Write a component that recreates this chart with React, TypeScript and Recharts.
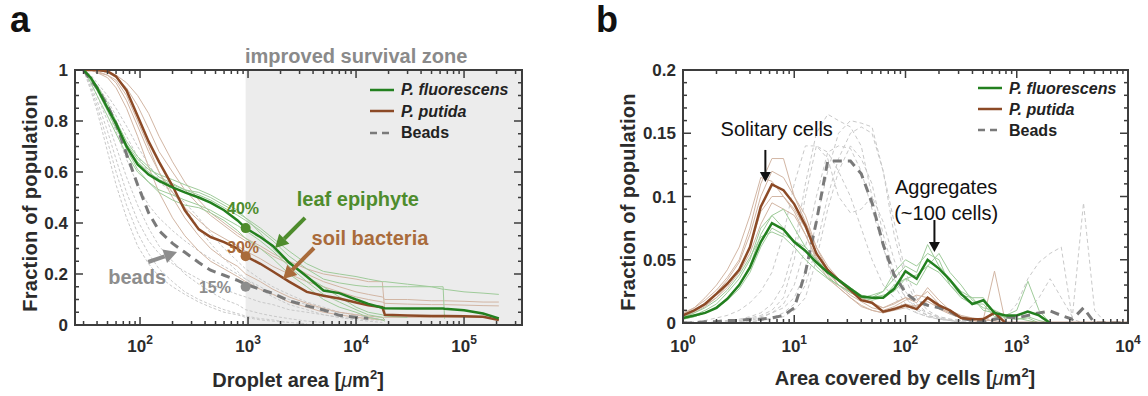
import React from "react";
import {
  LineChart,
  Line,
  XAxis,
  YAxis,
  ReferenceArea,
  ReferenceDot,
  ReferenceLine,
} from "recharts";

// ---------- panel a: fraction of population vs droplet area ----------
const A_AREA = [
  30, 35, 40, 50, 60, 75, 95, 120, 150, 200, 260, 350, 450, 600, 800, 950,
  1300, 1700, 2400, 3500, 5000, 7000, 10000, 13000, 17500, 18500, 30000,
  50000, 64000, 66000, 100000, 150000, 210000,
];
const A_FLUOR = [
  1.0, 0.97, 0.93, 0.85, 0.79, 0.7, 0.63, 0.59, 0.565, 0.54, 0.52, 0.5, 0.48,
  0.45, 0.41, 0.38, 0.345, 0.31, 0.245, 0.19, 0.135, 0.125, 0.1, 0.083, 0.068,
  0.066, 0.065, 0.065, 0.065, 0.064, 0.058, 0.045, 0.026,
];
const A_PUTIDA = [
  1.0, 1.0, 1.0, 0.995, 0.975, 0.92, 0.82, 0.72, 0.64, 0.545, 0.45, 0.375,
  0.345, 0.325, 0.3, 0.27, 0.24, 0.21, 0.17, 0.13, 0.115, 0.104, 0.088, 0.077,
  0.07, 0.04, 0.037, 0.035, 0.035, 0.035, 0.034, 0.032, 0.02,
];
const A_BEADS = [
  1.0, 0.96, 0.93, 0.86, 0.79, 0.67, 0.55, 0.44, 0.37, 0.32, 0.285, 0.245,
  0.215, 0.195, 0.175, 0.16, 0.14, 0.124, 0.095, 0.075, 0.059, 0.038, 0.03,
  0.026,
];
const A_FLUOR_REPS = [
  [1.0, 0.97, 0.94, 0.87, 0.8, 0.72, 0.66, 0.62, 0.58, 0.555, 0.53, 0.51, 0.49, 0.46, 0.43, 0.41, 0.37, 0.33, 0.27, 0.22, 0.18, 0.165, 0.155, 0.15, 0.15, 0.15, 0.15, 0.15, 0.15, 0.025],
  [1.0, 0.96, 0.92, 0.84, 0.77, 0.7, 0.64, 0.6, 0.57, 0.55, 0.53, 0.52, 0.5, 0.47, 0.44, 0.42, 0.38, 0.34, 0.29, 0.24, 0.21, 0.2, 0.19, 0.18, 0.17, 0.17, 0.16, 0.15, 0.14, 0.14, 0.13, 0.125, 0.12],
  [1.0, 0.95, 0.9, 0.82, 0.75, 0.67, 0.6, 0.56, 0.53, 0.51, 0.49, 0.47, 0.45, 0.42, 0.39, 0.37, 0.33, 0.29, 0.23, 0.17, 0.12, 0.09, 0.06, 0.04, 0.03, 0.02],
  [1.0, 0.97, 0.93, 0.86, 0.79, 0.71, 0.65, 0.61, 0.59, 0.57, 0.55, 0.53, 0.51, 0.48, 0.45, 0.42, 0.36, 0.3, 0.24, 0.19, 0.15, 0.11, 0.07, 0.05, 0.04, 0.035, 0.03],
  [1.0, 0.96, 0.92, 0.85, 0.78, 0.69, 0.61, 0.56, 0.52, 0.49, 0.47, 0.46, 0.44, 0.41, 0.37, 0.34, 0.3, 0.26, 0.2, 0.15, 0.1, 0.07, 0.05, 0.03, 0.02, 0.015],
];
const A_PUTIDA_REPS = [
  [1.0, 1.0, 1.0, 0.99, 0.97, 0.93, 0.86, 0.77, 0.68, 0.6, 0.53, 0.47, 0.43, 0.39, 0.35, 0.33, 0.3, 0.27, 0.24, 0.2, 0.17, 0.15, 0.13, 0.12, 0.11, 0.1, 0.1, 0.095, 0.095, 0.095, 0.093, 0.09, 0.09],
  [1.0, 1.0, 0.99, 0.98, 0.95, 0.88, 0.78, 0.68, 0.6, 0.52, 0.46, 0.41, 0.37, 0.34, 0.31, 0.29, 0.26, 0.23, 0.2, 0.17, 0.15, 0.13, 0.11, 0.1, 0.09, 0.085, 0.082, 0.08, 0.08, 0.08, 0.078, 0.076, 0.075],
  [1.0, 1.0, 0.99, 0.97, 0.93, 0.85, 0.74, 0.62, 0.52, 0.42, 0.35, 0.29, 0.25, 0.22, 0.19, 0.17, 0.14, 0.12, 0.09, 0.07, 0.05, 0.04, 0.03, 0.025, 0.02, 0.02],
  [1.0, 1.0, 1.0, 0.99, 0.98, 0.95, 0.9, 0.83, 0.74, 0.64, 0.56, 0.49, 0.44, 0.4, 0.36, 0.34, 0.31, 0.28, 0.25, 0.22, 0.2, 0.19, 0.18, 0.17, 0.17, 0.05],
  [1.0, 1.0, 0.995, 0.98, 0.96, 0.9, 0.8, 0.7, 0.6, 0.5, 0.42, 0.35, 0.3, 0.26, 0.23, 0.2, 0.17, 0.14, 0.11, 0.085, 0.065, 0.05, 0.04, 0.035, 0.03, 0.03, 0.03, 0.03, 0.03, 0.03, 0.03, 0.03],
];
const A_BEADS_REPS = [
  [1.0, 0.93, 0.86, 0.72, 0.6, 0.47, 0.36, 0.28, 0.22, 0.17, 0.13, 0.1, 0.08, 0.06, 0.045, 0.035, 0.025, 0.02, 0.01, 0.005],
  [1.0, 0.95, 0.9, 0.8, 0.7, 0.58, 0.47, 0.38, 0.31, 0.25, 0.2, 0.16, 0.13, 0.1, 0.08, 0.06, 0.045, 0.035, 0.025, 0.015, 0.01],
  [1.0, 0.97, 0.94, 0.88, 0.82, 0.74, 0.66, 0.6, 0.56, 0.52, 0.46, 0.38, 0.32, 0.26, 0.21, 0.18, 0.14, 0.11, 0.08, 0.06, 0.04, 0.03, 0.02, 0.015, 0.01],
  [1.0, 0.96, 0.92, 0.84, 0.76, 0.65, 0.55, 0.47, 0.42, 0.37, 0.33, 0.29, 0.26, 0.23, 0.2, 0.18, 0.15, 0.12, 0.1, 0.08, 0.06, 0.05, 0.04, 0.03, 0.02, 0.02],
  [1.0, 0.94, 0.88, 0.76, 0.65, 0.52, 0.41, 0.33, 0.28, 0.24, 0.21, 0.18, 0.16, 0.14, 0.12, 0.11, 0.09, 0.08, 0.06, 0.05, 0.04, 0.03, 0.025, 0.02, 0.02],
  [1.0, 0.98, 0.95, 0.9, 0.85, 0.78, 0.7, 0.63, 0.57, 0.52, 0.48, 0.42, 0.36, 0.3, 0.25, 0.22, 0.18, 0.15, 0.12, 0.09, 0.07, 0.05, 0.04, 0.03, 0.02],
  [1.0, 0.92, 0.84, 0.68, 0.55, 0.42, 0.31, 0.24, 0.19, 0.15, 0.12, 0.09, 0.07, 0.05, 0.04, 0.03, 0.02, 0.015, 0.01],
];
const A_X_TICKS = [
  30, 40, 50, 60, 70, 80, 90, 100, 200, 300, 400, 500, 600, 700, 800, 900,
  1000, 2000, 3000, 4000, 5000, 6000, 7000, 8000, 9000, 10000, 20000, 30000,
  40000, 50000, 60000, 70000, 80000, 90000, 100000, 200000, 300000,
];
const A_Y_TICKS = [
  0, 0.05, 0.1, 0.15, 0.2, 0.25, 0.3, 0.35, 0.4, 0.45, 0.5, 0.55, 0.6, 0.65,
  0.7, 0.75, 0.8, 0.85, 0.9, 0.95, 1,
];
const A_MARKERS = [
  { label: "40%", x: 950, y: 0.38 },
  { label: "30%", x: 950, y: 0.27 },
  { label: "15%", x: 950, y: 0.15 },
];

// ---------- panel b: fraction of population vs area covered by cells ----------
const B_AREA = [
  1, 1.26, 1.58, 2, 2.5, 3.2, 4, 5, 6.3, 8, 10, 12.6, 15.8, 20, 25, 32, 40, 50,
  63, 79, 100, 126, 158, 200, 251, 316, 398, 501, 631, 794, 1000, 1259, 1585,
  1995, 2512, 3162, 3981, 5012, 6310, 7943, 10000,
];
const B_FLUOR = [
  0.004, 0.006, 0.008, 0.012, 0.019, 0.03, 0.044, 0.064, 0.079, 0.074, 0.064,
  0.057, 0.048, 0.04, 0.034, 0.027, 0.021, 0.02, 0.02, 0.027, 0.041, 0.035,
  0.05, 0.043, 0.034, 0.023, 0.015, 0.018, 0.008, 0.006, 0.006, 0.009, 0.006,
  0.0,
];
const B_PUTIDA = [
  0.006, 0.01, 0.015, 0.023, 0.031, 0.042, 0.06, 0.092, 0.1095, 0.105, 0.094,
  0.077, 0.055, 0.042, 0.034, 0.026, 0.018, 0.016, 0.009, 0.011, 0.014, 0.011,
  0.02, 0.014, 0.01, 0.004, 0.003, 0.003, 0.008, 0, 0, 0, 0, 0, 0, 0, 0, 0, 0,
  0, 0,
];
const B_BEADS = [
  0, 0, 0.001, 0.001, 0.002, 0.002, 0.003, 0.003, 0.004, 0.006, 0.012, 0.04,
  0.08, 0.128, 0.128, 0.128, 0.118, 0.095, 0.062, 0.038, 0.024, 0.017, 0.014,
  0.012, 0.009, 0.004, 0.002, 0.001, 0.003, 0.005, 0.004, 0.006, 0.008, 0.0095,
  0.006, 0.003, 0.012, 0, 0, 0, 0,
];
const B_FLUOR_REPS = [
  [0.003, 0.005, 0.008, 0.013, 0.02, 0.03, 0.045, 0.07, 0.085, 0.09, 0.075, 0.06, 0.05, 0.04, 0.033, 0.025, 0.02, 0.022, 0.025, 0.035, 0.045, 0.04, 0.062, 0.045, 0.035, 0.025, 0.02, 0.01, 0.008, 0.004, 0.003, 0.004, 0],
  [0.004, 0.006, 0.01, 0.015, 0.024, 0.035, 0.05, 0.075, 0.085, 0.075, 0.065, 0.06, 0.05, 0.042, 0.035, 0.028, 0.022, 0.02, 0.025, 0.04, 0.05, 0.045, 0.055, 0.05, 0.03, 0.02, 0.015, 0.015, 0.005, 0.006, 0.01, 0.033, 0.01, 0],
  [0.003, 0.005, 0.008, 0.012, 0.018, 0.027, 0.04, 0.06, 0.075, 0.07, 0.065, 0.058, 0.045, 0.036, 0.03, 0.024, 0.02, 0.018, 0.02, 0.03, 0.035, 0.03, 0.045, 0.055, 0.04, 0.03, 0.018, 0.012, 0.01, 0.006, 0.004, 0.002, 0],
  [0.005, 0.008, 0.012, 0.018, 0.026, 0.038, 0.052, 0.068, 0.072, 0.068, 0.06, 0.05, 0.042, 0.035, 0.03, 0.025, 0.022, 0.02, 0.022, 0.025, 0.035, 0.038, 0.045, 0.04, 0.03, 0.022, 0.02, 0.02, 0.008, 0.004, 0.003, 0.005, 0.002, 0],
];
const B_PUTIDA_REPS = [
  [0.008, 0.012, 0.018, 0.026, 0.036, 0.05, 0.075, 0.11, 0.13, 0.13, 0.1, 0.08, 0.06, 0.045, 0.035, 0.025, 0.02, 0.015, 0.012, 0.016, 0.02, 0.018, 0.025, 0.015, 0.008, 0.005, 0.003, 0.002, 0.01, 0],
  [0.006, 0.01, 0.016, 0.024, 0.034, 0.048, 0.07, 0.1, 0.12, 0.115, 0.1, 0.085, 0.06, 0.042, 0.03, 0.022, 0.017, 0.012, 0.01, 0.013, 0.018, 0.022, 0.02, 0.012, 0.008, 0.005, 0.004, 0.003, 0.041, 0],
  [0.005, 0.009, 0.014, 0.02, 0.03, 0.042, 0.06, 0.088, 0.1, 0.1, 0.09, 0.075, 0.055, 0.04, 0.03, 0.024, 0.02, 0.016, 0.012, 0.015, 0.02, 0.016, 0.028, 0.018, 0.01, 0.006, 0.004, 0.002, 0.002, 0],
  [0.004, 0.008, 0.013, 0.02, 0.028, 0.04, 0.055, 0.078, 0.095, 0.09, 0.085, 0.07, 0.052, 0.038, 0.028, 0.02, 0.014, 0.01, 0.008, 0.01, 0.012, 0.014, 0.017, 0.012, 0.008, 0.005, 0.003, 0.004, 0.001, 0],
  [0.007, 0.012, 0.02, 0.03, 0.042, 0.06, 0.085, 0.115, 0.112, 0.1, 0.088, 0.07, 0.05, 0.035, 0.028, 0.02, 0.013, 0.01, 0.008, 0.012, 0.015, 0.013, 0.02, 0.011, 0.007, 0.004, 0.002, 0],
];
const B_BEADS_REPS = [
  [0, 0, 0, 0.001, 0.002, 0.003, 0.005, 0.008, 0.015, 0.03, 0.06, 0.11, 0.15, 0.165, 0.16, 0.155, 0.14, 0.1, 0.06, 0.03, 0.015, 0.008, 0.005, 0.003, 0.002, 0.001, 0],
  [0, 0, 0, 0, 0.001, 0.002, 0.003, 0.005, 0.008, 0.012, 0.02, 0.04, 0.08, 0.12, 0.15, 0.16, 0.158, 0.155, 0.12, 0.07, 0.035, 0.015, 0.008, 0.004, 0.002, 0],
  [0, 0, 0, 0, 0.001, 0.002, 0.004, 0.006, 0.01, 0.02, 0.05, 0.1, 0.14, 0.13, 0.1, 0.087, 0.09, 0.1, 0.08, 0.05, 0.025, 0.012, 0.006, 0.003, 0.002, 0],
  [0.001, 0.001, 0.002, 0.004, 0.006, 0.01, 0.016, 0.025, 0.04, 0.07, 0.11, 0.14, 0.14, 0.135, 0.12, 0.1, 0.075, 0.05, 0.03, 0.02, 0.012, 0.008, 0.005, 0.003, 0.002, 0.001, 0],
  [0, 0, 0, 0, 0, 0.001, 0.002, 0.004, 0.008, 0.015, 0.03, 0.06, 0.1, 0.135, 0.14, 0.138, 0.12, 0.09, 0.06, 0.035, 0.02, 0.012, 0.008, 0.005, 0.003, 0.002, 0.001, 0.001, 0.002, 0.004, 0.006, 0.01, 0.02, 0.035, 0.02, 0.005, 0.095, 0.01, 0],
  [0, 0, 0, 0, 0, 0, 0.001, 0.002, 0.003, 0.005, 0.01, 0.02, 0.05, 0.09, 0.12, 0.14, 0.13, 0.11, 0.07, 0.04, 0.02, 0.01, 0.006, 0.004, 0.002, 0.002, 0.003, 0.003, 0.004, 0.005, 0.015, 0.035, 0.048, 0.055, 0.06, 0.003, 0],
  [0, 0, 0, 0, 0, 0, 0.001, 0.002, 0.004, 0.008, 0.015, 0.03, 0.06, 0.1, 0.13, 0.15, 0.155, 0.15, 0.12, 0.08, 0.04, 0.02, 0.01, 0.005, 0.003, 0.002, 0.001, 0],
];
const B_X_TICKS = [
  1, 2, 3, 4, 5, 6, 7, 8, 9, 10, 20, 30, 40, 50, 60, 70, 80, 90, 100, 200, 300,
  400, 500, 600, 700, 800, 900, 1000, 2000, 3000, 4000, 5000, 6000, 7000, 8000,
  9000, 10000,
];
const B_Y_TICKS = [
  0, 0.01, 0.02, 0.03, 0.04, 0.05, 0.06, 0.07, 0.08, 0.09, 0.1, 0.11, 0.12,
  0.13, 0.14, 0.15, 0.16, 0.17, 0.18, 0.19, 0.2,
];

// ---------- styling ----------
const FONT = '"Liberation Sans", Arial, Helvetica, sans-serif';
const FRAME = "#3d3d3d";
const INK = "#2b2b2b";
const GREEN = "#23801f";
const GREEN_THIN = "#9fcb9a";
const BROWN = "#8c4a26";
const BROWN_THIN = "#d2b6a4";
const GRAY_THICK = "#7a7a7a";
const GRAY_THIN = "#c9c9c9";
const GREEN_TXT = "#4e8c2d";
const BROWN_TXT = "#a96b3b";
const GRAY_TXT = "#8d8d8d";

function buildRows(xs: number[], series: Record<string, number[]>) {
  return xs.map((x, i) => {
    const row: Record<string, number | null> = { x };
    for (const [k, v] of Object.entries(series)) row[k] = v[i] ?? null;
    return row;
  });
}

const isDecade = (v: number) => {
  const l = Math.log10(v);
  return Math.abs(l - Math.round(l)) < 1e-6;
};

// axis labels only; the tick marks are drawn as inward marks on the frame
function xLabel(labelDy: number) {
  return (p: any) => {
    const v = p.payload.value;
    if (!isDecade(v)) return <g />;
    return (
      <text x={p.x} y={p.y + labelDy} textAnchor="middle" fontSize={17} fontWeight="bold" fill={INK} fontFamily={FONT}>
        10
        <tspan dy={-8} fontSize={12}>
          {Math.round(Math.log10(v))}
        </tspan>
      </text>
    );
  };
}

function yLabel(majorEvery: number) {
  return (p: any) => {
    const v = p.payload.value;
    if (Math.round(v * 100) % majorEvery !== 0) return <g />;
    return (
      <text x={p.x - 7} y={p.y} dy="0.36em" textAnchor="end" fontSize={17} fontWeight="bold" fill={INK} fontFamily={FONT}>
        {String(Number(v.toFixed(2)))}
      </text>
    );
  };
}

function tickMark(dx: number, dy: number) {
  return (p: any) => (
    <line x1={p.cx} y1={p.cy} x2={p.cx + dx} y2={p.cy + dy} stroke={FRAME} strokeWidth={1.5} />
  );
}

function frameTicks(domX: [number, number], ticksX: number[], domY: [number, number], ticksY: number[], majorY: number) {
  const out: React.ReactNode[] = [];
  ticksX.forEach((v) => {
    const len = isDecade(v) ? 8 : 4;
    out.push(<ReferenceDot key={`xb${v}`} x={v} y={domY[0]} r={0} ifOverflow="visible" shape={tickMark(0, -len)} />);
    out.push(<ReferenceDot key={`xt${v}`} x={v} y={domY[1]} r={0} ifOverflow="visible" shape={tickMark(0, len)} />);
  });
  ticksY.forEach((v) => {
    const len = Math.round(v * 100) % majorY === 0 ? 8 : 4;
    out.push(<ReferenceDot key={`yl${v}`} x={domX[0]} y={v} r={0} ifOverflow="visible" shape={tickMark(len, 0)} />);
    out.push(<ReferenceDot key={`yr${v}`} x={domX[1]} y={v} r={0} ifOverflow="visible" shape={tickMark(-len, 0)} />);
  });
  out.push(
    <ReferenceArea key="frame" x1={domX[0]} x2={domX[1]} y1={domY[0]} y2={domY[1]} fill="none" fillOpacity={0}
      stroke={FRAME} strokeWidth={2} ifOverflow="visible" />
  );
  return out;
}

function textShape(label: string, color: string, size: number, weight = "bold") {
  return (p: any) => (
    <text x={p.cx} y={p.cy} dy="0.35em" textAnchor="middle" fill={color} fontSize={size} fontWeight={weight} fontFamily={FONT}>
      {label}
    </text>
  );
}

function arrowShape(color: string, width: number, head: number) {
  return (p: any) => {
    const { x1, y1, x2, y2 } = p;
    const dx = x2 - x1;
    const dy = y2 - y1;
    const len = Math.hypot(dx, dy) || 1;
    const ux = dx / len;
    const uy = dy / len;
    const bx = x2 - ux * head;
    const by = y2 - uy * head;
    const hw = head * 0.55;
    return (
      <g>
        <line x1={x1} y1={y1} x2={bx} y2={by} stroke={color} strokeWidth={width} />
        <polygon
          points={`${x2},${y2} ${bx - uy * hw},${by + ux * hw} ${bx + uy * hw},${by - ux * hw}`}
          fill={color}
        />
      </g>
    );
  };
}

const LEGEND_ITEMS = [
  { label: "P. fluorescens", color: GREEN, italic: true, dash: undefined as string | undefined },
  { label: "P. putida", color: BROWN, italic: true, dash: undefined },
  { label: "Beads", color: GRAY_THICK, italic: false, dash: "7 5" },
];

function LegendBlock({ left, top, gap }: { left: number; top: number; gap: number }) {
  return (
    <div style={{ position: "absolute", left, top }}>
      {LEGEND_ITEMS.map((it) => (
        <div key={it.label} style={{ display: "flex", alignItems: "center", height: gap }}>
          <svg width={24} height={6}>
            <line x1={0} x2={24} y1={3} y2={3} stroke={it.color} strokeWidth={2.5} strokeDasharray={it.dash} />
          </svg>
          <span
            style={{
              marginLeft: 7,
              fontSize: 16,
              fontWeight: "bold",
              fontStyle: it.italic ? "italic" : "normal",
              color: "#222",
              lineHeight: `${gap}px`,
              whiteSpace: "nowrap",
            }}
          >
            {it.label}
          </span>
        </div>
      ))}
    </div>
  );
}

function VTitle({ cx, cy, text }: { cx: number; cy: number; text: string }) {
  return (
    <div
      style={{
        position: "absolute",
        left: cx - 160,
        top: cy - 12,
        width: 320,
        height: 24,
        lineHeight: "24px",
        textAlign: "center",
        transform: "rotate(-90deg)",
        fontSize: 20,
        fontWeight: "bold",
        color: INK,
        letterSpacing: 0.3,
      }}
    >
      {text}
    </div>
  );
}

function HTitle({ cx, cy, text }: { cx: number; cy: number; text: string }) {
  return (
    <div
      style={{
        position: "absolute",
        left: cx - 200,
        top: cy - 12,
        width: 400,
        height: 24,
        lineHeight: "24px",
        textAlign: "center",
        fontSize: 20,
        fontWeight: "bold",
        color: INK,
        whiteSpace: "nowrap",
      }}
    >
      {text} [<span style={{ fontStyle: "italic", fontWeight: "normal" }}>μ</span>m
      <span style={{ fontSize: 13, position: "relative", top: -8 }}>2</span>]
    </div>
  );
}

const thin = (color: string, dash?: string) => ({
  stroke: color,
  strokeWidth: 1,
  strokeDasharray: dash,
  dot: false as const,
  activeDot: false as const,
  isAnimationActive: false,
  connectNulls: false,
  type: "linear" as const,
});

function PanelA() {
  const series: Record<string, number[]> = { fluor: A_FLUOR, putida: A_PUTIDA, beads: A_BEADS };
  A_FLUOR_REPS.forEach((s, i) => (series[`g${i}`] = s));
  A_PUTIDA_REPS.forEach((s, i) => (series[`b${i}`] = s));
  A_BEADS_REPS.forEach((s, i) => (series[`d${i}`] = s));
  const rows = buildRows(A_AREA, series);
  const domain: [number, number] = [25, 344000];
  const markerColors = [GREEN_TXT, BROWN_TXT, GRAY_TXT];
  return (
    <LineChart width={560} height={396} data={rows} margin={{ top: 70, right: 38, bottom: 41, left: 15 }}>
      <ReferenceArea x1={950} x2={344000} y1={0} y2={1} fill="#ececec" fillOpacity={1} stroke="none" ifOverflow="visible" />
      {A_BEADS_REPS.map((_, i) => (
        <Line key={`d${i}`} dataKey={`d${i}`} {...thin(GRAY_THIN, "3 2")} />
      ))}
      {A_PUTIDA_REPS.map((_, i) => (
        <Line key={`b${i}`} dataKey={`b${i}`} {...thin(BROWN_THIN)} />
      ))}
      {A_FLUOR_REPS.map((_, i) => (
        <Line key={`g${i}`} dataKey={`g${i}`} {...thin(GREEN_THIN)} />
      ))}
      <Line dataKey="beads" {...thin(GRAY_THICK, "9 6")} strokeWidth={3} />
      <Line dataKey="putida" {...thin(BROWN)} strokeWidth={2.5} />
      <Line dataKey="fluor" {...thin(GREEN)} strokeWidth={2.5} />

      {A_MARKERS.map((m, i) => (
        <ReferenceDot key={m.label} x={m.x} y={m.y} r={5} fill={markerColors[i]} stroke="none" ifOverflow="visible" />
      ))}
      <ReferenceDot x={900} y={0.459} r={0} ifOverflow="visible" shape={textShape(A_MARKERS[0].label, GREEN_TXT, 16)} />
      <ReferenceDot x={900} y={0.306} r={0} ifOverflow="visible" shape={textShape(A_MARKERS[1].label, BROWN_TXT, 16)} />
      <ReferenceDot x={494} y={0.149} r={0} ifOverflow="visible" shape={textShape(A_MARKERS[2].label, GRAY_TXT, 16)} />
      <ReferenceDot x={10400} y={0.494} r={0} ifOverflow="visible" shape={textShape("leaf epiphyte", GREEN_TXT, 20)} />
      <ReferenceDot x={13460} y={0.341} r={0} ifOverflow="visible" shape={textShape("soil bacteria", BROWN_TXT, 20)} />
      <ReferenceDot x={94} y={0.188} r={0} ifOverflow="visible" shape={textShape("beads", GRAY_TXT, 20)} />
      <ReferenceLine segment={[{ x: 3370, y: 0.42 }, { x: 1780, y: 0.302 }]} ifOverflow="visible" shape={arrowShape(GREEN_TXT, 4, 13)} />
      <ReferenceLine segment={[{ x: 4080, y: 0.302 }, { x: 2110, y: 0.18 }]} ifOverflow="visible" shape={arrowShape(BROWN_TXT, 4, 13)} />
      <ReferenceLine segment={[{ x: 119, y: 0.247 }, { x: 220, y: 0.286 }]} ifOverflow="visible" shape={arrowShape(GRAY_TXT, 4, 13)} />

      {frameTicks(domain, A_X_TICKS, [0, 1], A_Y_TICKS, 20)}

      <XAxis dataKey="x" type="number" scale="log" domain={domain} allowDataOverflow ticks={A_X_TICKS} interval={0}
        height={30} tickSize={0} tickMargin={0} tickLine={false} axisLine={{ stroke: FRAME, strokeWidth: 2 }} tick={xLabel(27)} />
      <YAxis type="number" domain={[0, 1]} allowDataOverflow ticks={A_Y_TICKS} interval={0} width={60}
        tickSize={0} tickMargin={0} tickLine={false} axisLine={{ stroke: FRAME, strokeWidth: 2 }} tick={yLabel(20)} />
    </LineChart>
  );
}

function PanelB() {
  const series: Record<string, number[]> = { fluor: B_FLUOR, putida: B_PUTIDA, beads: B_BEADS };
  B_FLUOR_REPS.forEach((s, i) => (series[`g${i}`] = s));
  B_PUTIDA_REPS.forEach((s, i) => (series[`b${i}`] = s));
  B_BEADS_REPS.forEach((s, i) => (series[`d${i}`] = s));
  const rows = buildRows(B_AREA, series);
  const domain: [number, number] = [1, 10000];
  return (
    <LineChart width={568} height={396} data={rows} margin={{ top: 70, right: 20, bottom: 43, left: 43 }}>
      {B_BEADS_REPS.map((_, i) => (
        <Line key={`d${i}`} dataKey={`d${i}`} {...thin(GRAY_THIN, "4 3")} />
      ))}
      {B_PUTIDA_REPS.map((_, i) => (
        <Line key={`b${i}`} dataKey={`b${i}`} {...thin(BROWN_THIN)} />
      ))}
      {B_FLUOR_REPS.map((_, i) => (
        <Line key={`g${i}`} dataKey={`g${i}`} {...thin(GREEN_THIN)} />
      ))}
      <Line dataKey="beads" {...thin(GRAY_THICK, "9 6")} strokeWidth={3} />
      <Line dataKey="putida" {...thin(BROWN)} strokeWidth={2.5} />
      <Line dataKey="fluor" {...thin(GREEN)} strokeWidth={2.5} />

      <ReferenceDot x={6.96} y={0.1534} r={0} ifOverflow="visible" shape={textShape("Solitary cells", "#111", 20, "normal")} />
      <ReferenceDot x={232} y={0.1075} r={0} ifOverflow="visible" shape={textShape("Aggregates", "#111", 20, "normal")} />
      <ReferenceDot x={232} y={0.087} r={0} ifOverflow="visible" shape={textShape("(~100 cells)", "#111", 20, "normal")} />
      <ReferenceLine segment={[{ x: 5.5, y: 0.1368 }, { x: 5.5, y: 0.1115 }]} ifOverflow="visible" shape={arrowShape("#111", 2, 10)} />
      <ReferenceLine segment={[{ x: 182, y: 0.0814 }, { x: 182, y: 0.0561 }]} ifOverflow="visible" shape={arrowShape("#111", 2, 10)} />

      {frameTicks(domain, B_X_TICKS, [0, 0.2], B_Y_TICKS, 5)}

      <XAxis dataKey="x" type="number" scale="log" domain={domain} allowDataOverflow ticks={B_X_TICKS} interval={0}
        height={30} tickSize={0} tickMargin={0} tickLine={false} axisLine={{ stroke: FRAME, strokeWidth: 2 }} tick={xLabel(29)} />
      <YAxis type="number" domain={[0, 0.2]} allowDataOverflow ticks={B_Y_TICKS} interval={0} width={60}
        tickSize={0} tickMargin={0} tickLine={false} axisLine={{ stroke: FRAME, strokeWidth: 2 }} tick={yLabel(5)} />
    </LineChart>
  );
}

export default function App() {
  return (
    <div
      style={{
        position: "absolute",
        left: 0,
        top: 0,
        width: 1148,
        height: 396,
        background: "#fff",
        fontFamily: FONT,
        overflow: "hidden",
      }}
    >
      <div style={{ position: "absolute", left: 0, top: 0 }}>
        <PanelA />
      </div>
      <div style={{ position: "absolute", left: 580, top: 0 }}>
        <PanelB />
      </div>

      <div style={{ position: "absolute", left: 10, top: 2, fontSize: 36, lineHeight: "36px", fontWeight: "bold", color: "#111" }}>a</div>
      <div style={{ position: "absolute", left: 596, top: 2, fontSize: 36, lineHeight: "36px", fontWeight: "bold", color: "#111" }}>b</div>

      <div style={{ position: "absolute", left: 245, top: 45, fontSize: 20, lineHeight: "22px", fontWeight: "bold", color: "#8a8a8a", whiteSpace: "nowrap" }}>
        improved survival zone
      </div>

      <LegendBlock left={370} top={79} gap={21.5} />
      <LegendBlock left={978} top={77.5} gap={21} />

      <VTitle cx={30} cy={203} text="Fraction of population" />
      <VTitle cx={628} cy={202} text="Fraction of population" />
      <HTitle cx={298} cy={380} text="Droplet area" />
      <HTitle cx={905} cy={378} text="Area covered by cells" />
    </div>
  );
}
